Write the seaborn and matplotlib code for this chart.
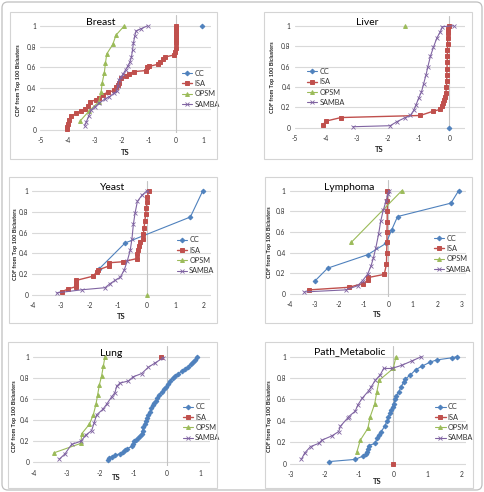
import matplotlib
matplotlib.use("Agg")
import matplotlib.pyplot as plt
import seaborn as sns
from matplotlib.patches import Rectangle, FancyBboxPatch
from matplotlib.lines import Line2D

# ---- data (TS value, CDF) ----
breast_cc = [(0.95, 1.0)]
breast_isa = [(-4.03, 0.01), (-4.0, 0.03), (-3.97, 0.06), (-3.93, 0.1), (-3.87, 0.13), (-3.68, 0.16),
              (-3.5, 0.18), (-3.34, 0.2), (-3.25, 0.23), (-3.17, 0.27), (-2.94, 0.29), (-2.82, 0.31),
              (-2.7, 0.34), (-2.52, 0.36), (-2.27, 0.38), (-2.21, 0.41), (-2.15, 0.43), (-2.11, 0.45),
              (-2.02, 0.5), (-1.84, 0.52), (-1.73, 0.54), (-1.55, 0.56), (-1.1, 0.57), (-1.05, 0.6),
              (-0.98, 0.61), (-0.67, 0.63), (-0.58, 0.65), (-0.47, 0.68), (-0.4, 0.7), (-0.06, 0.72),
              (-0.02, 0.75), (-0.01, 0.79), (-0.01, 0.83), (0.0, 0.86), (0.0, 0.89), (0.0, 0.92),
              (0.0, 0.95), (0.01, 0.98), (0.01, 1.0)]
breast_opsm = [(-3.52, 0.09), (-3.21, 0.18), (-2.85, 0.27), (-2.76, 0.36), (-2.72, 0.45), (-2.64, 0.55),
               (-2.6, 0.64), (-2.55, 0.73), (-2.33, 0.82), (-2.21, 0.91), (-1.9, 1.0)]
breast_samba = [(-3.37, 0.04), (-3.3, 0.08), (-3.22, 0.13), (-3.13, 0.19), (-3.0, 0.22), (-2.82, 0.26),
                (-2.6, 0.3), (-2.45, 0.32), (-2.3, 0.35), (-2.18, 0.37), (-2.14, 0.42), (-2.11, 0.48),
                (-2.02, 0.51), (-1.94, 0.54), (-1.85, 0.58), (-1.78, 0.61), (-1.7, 0.65), (-1.64, 0.7),
                (-1.6, 0.77), (-1.57, 0.83), (-1.52, 0.9), (-1.47, 0.95), (-1.3, 0.97), (-1.04, 1.0)]

liver_cc = [(0.0, 0.0)]
liver_isa = [(-4.08, 0.03), (-3.99, 0.065), (-3.5, 0.1), (-0.94, 0.12), (-0.54, 0.16), (-0.29, 0.18),
             (-0.24, 0.21), (-0.2, 0.24), (-0.17, 0.27), (-0.14, 0.3), (-0.11, 0.34), (-0.09, 0.4),
             (-0.08, 0.46), (-0.08, 0.52), (-0.07, 0.58), (-0.07, 0.64), (-0.06, 0.7), (-0.06, 0.76),
             (-0.05, 0.82), (-0.05, 0.88), (-0.04, 0.93), (-0.03, 0.97), (-0.02, 1.0)]
liver_opsm = [(-1.42, 1.0)]
liver_samba = [(-3.11, 0.01), (-1.91, 0.02), (-1.69, 0.06), (-1.42, 0.1), (-1.26, 0.12), (-1.15, 0.17),
               (-1.08, 0.22), (-0.99, 0.29), (-0.9, 0.35), (-0.83, 0.43), (-0.75, 0.52), (-0.69, 0.6),
               (-0.61, 0.7), (-0.51, 0.79), (-0.4, 0.88), (-0.29, 0.94), (-0.22, 0.99), (0.14, 1.0)]

yeast_cc = [(-1.67, 0.25), (-0.76, 0.5), (1.52, 0.75), (1.95, 1.0)]
yeast_isa = [(-2.97, 0.03), (-2.74, 0.06), (-2.47, 0.08), (-2.47, 0.11), (-2.47, 0.14), (-1.89, 0.18),
             (-1.75, 0.22), (-1.71, 0.24), (-1.31, 0.28), (-1.31, 0.31), (-0.82, 0.32), (-0.35, 0.35),
             (-0.33, 0.39), (-0.3, 0.43), (-0.28, 0.47), (-0.23, 0.51), (-0.14, 0.54), (-0.12, 0.59),
             (-0.1, 0.64), (-0.07, 0.71), (-0.04, 0.78), (-0.02, 0.84), (0.0, 0.89), (0.02, 0.94),
             (0.06, 1.0)]
yeast_opsm = [(0.0, 0.0)]
yeast_samba = [(-3.15, 0.02), (-2.27, 0.05), (-1.46, 0.07), (-1.28, 0.11), (-1.11, 0.14), (-0.93, 0.17),
               (-0.79, 0.24), (-0.68, 0.33), (-0.58, 0.43), (-0.52, 0.54), (-0.47, 0.68), (-0.41, 0.79),
               (-0.33, 0.9), (-0.17, 0.96), (0.0, 1.0)]

lymph_cc = [(-2.96, 0.13), (-2.46, 0.25), (-0.84, 0.38), (-0.09, 0.49), (0.14, 0.62), (0.38, 0.75),
            (2.55, 0.88), (2.86, 1.0)]
lymph_isa = [(-3.2, 0.04), (-1.6, 0.065), (-1.04, 0.1), (-0.8, 0.135), (-0.8, 0.16), (-0.16, 0.19),
             (-0.07, 0.29), (-0.06, 0.4), (-0.05, 0.5), (-0.05, 0.6), (-0.04, 0.7), (-0.04, 0.8),
             (-0.03, 0.9), (-0.03, 1.0)]
lymph_opsm = [(-1.5, 0.5), (0.55, 1.0)]
lymph_samba = [(-3.4, 0.02), (-1.72, 0.04), (-1.24, 0.08), (-1.04, 0.13), (-0.84, 0.19), (-0.7, 0.27),
               (-0.6, 0.35), (-0.5, 0.45), (-0.39, 0.58), (-0.3, 0.71), (-0.2, 0.81), (-0.09, 0.9),
               (0.0, 0.97), (0.04, 1.0)]

lung_cc = [(-1.75, 0.02), (-1.72, 0.04), (-1.65, 0.05), (-1.55, 0.07), (-1.4, 0.08), (-1.3, 0.1),
           (-1.25, 0.12), (-1.18, 0.13), (-1.05, 0.15), (-1.0, 0.17), (-0.98, 0.2), (-0.92, 0.21),
           (-0.85, 0.23), (-0.8, 0.25), (-0.75, 0.27), (-0.72, 0.3), (-0.7, 0.33), (-0.66, 0.36),
           (-0.62, 0.39), (-0.58, 0.42), (-0.55, 0.45), (-0.5, 0.48), (-0.46, 0.51), (-0.42, 0.54),
           (-0.38, 0.56), (-0.32, 0.58), (-0.28, 0.61), (-0.22, 0.64), (-0.15, 0.67), (-0.08, 0.69),
           (-0.02, 0.71), (0.05, 0.74), (0.1, 0.77), (0.18, 0.8), (0.25, 0.82), (0.35, 0.84),
           (0.45, 0.86), (0.55, 0.88), (0.65, 0.9), (0.72, 0.93), (0.78, 0.95), (0.85, 0.97), (0.9, 1.0)]
lung_isa = [(-0.18, 1.0)]
lung_opsm = [(-3.38, 0.09), (-2.57, 0.18), (-2.55, 0.27), (-2.32, 0.36), (-2.2, 0.45), (-2.12, 0.55),
             (-2.07, 0.64), (-2.02, 0.73), (-1.95, 0.82), (-1.9, 0.91), (-1.85, 1.0)]
lung_samba = [(-3.22, 0.03), (-3.05, 0.08), (-2.85, 0.17), (-2.57, 0.2), (-2.42, 0.26), (-2.25, 0.3),
              (-2.18, 0.37), (-2.1, 0.45), (-1.92, 0.5), (-1.8, 0.55), (-1.65, 0.62), (-1.55, 0.66),
              (-1.5, 0.72), (-1.4, 0.75), (-1.15, 0.77), (-1.0, 0.81), (-0.75, 0.84), (-0.55, 0.9),
              (-0.35, 0.94), (-0.1, 0.99)]

path_cc = [(-1.86, 0.02), (-1.11, 0.04), (-0.89, 0.07), (-0.8, 0.09), (-0.77, 0.11), (-0.74, 0.14),
           (-0.72, 0.17), (-0.52, 0.19), (-0.48, 0.24), (-0.42, 0.27), (-0.35, 0.3), (-0.25, 0.35),
           (-0.18, 0.4), (-0.14, 0.44), (-0.1, 0.47), (-0.07, 0.5), (-0.02, 0.53), (0.01, 0.56),
           (0.05, 0.6), (0.08, 0.63), (0.16, 0.67), (0.23, 0.72), (0.3, 0.76), (0.35, 0.79),
           (0.5, 0.83), (0.66, 0.88), (0.83, 0.91), (1.08, 0.95), (1.27, 0.97), (1.71, 0.99), (1.85, 1.0)]
path_isa = [(0.0, 0.0)]
path_opsm = [(-1.06, 0.11), (-0.96, 0.22), (-0.74, 0.33), (-0.67, 0.44), (-0.54, 0.56), (-0.48, 0.67),
             (-0.41, 0.78), (0.0, 0.89), (0.08, 1.0)]
path_samba = [(-2.68, 0.04), (-2.58, 0.1), (-2.41, 0.16), (-2.17, 0.19), (-2.08, 0.22), (-1.79, 0.26),
              (-1.59, 0.3), (-1.54, 0.35), (-1.32, 0.43), (-1.3, 0.44), (-1.11, 0.49), (-1.03, 0.55),
              (-0.91, 0.61), (-0.72, 0.68), (-0.64, 0.72), (-0.52, 0.78), (-0.38, 0.83), (-0.28, 0.89),
              (-0.04, 0.89), (0.25, 0.92), (0.54, 0.96), (0.82, 1.0)]

series_names = ["CC", "ISA", "OPSM", "SAMBA"]
panel_titles = ["Breast", "Liver", "Yeast", "Lymphoma", "Lung", "Path_Metabolic"]
panel_data = [
    [breast_cc, breast_isa, breast_opsm, breast_samba],
    [liver_cc, liver_isa, liver_opsm, liver_samba],
    [yeast_cc, yeast_isa, yeast_opsm, yeast_samba],
    [lymph_cc, lymph_isa, lymph_opsm, lymph_samba],
    [lung_cc, lung_isa, lung_opsm, lung_samba],
    [path_cc, path_isa, path_opsm, path_samba],
]
x_ranges = [(-5, 1.28), (-5, 0.5), (-4, 2.23), (-4, 3.16), (-4, 1.3), (-3, 2.12)]

# ---- styling / layout (pixels) ----
colors = ["#4F81BD", "#C0504D", "#9BBB59", "#8064A2"]
markers = ["D", "s", "^", "x"]
msizes = [2.4, 3.3, 2.8, 2.6]
mews = [0.7, 0.7, 0.7, 0.6]
lwidths = [0.8, 1.0, 0.8, 0.8]

W, H = 484, 492
# axes rect: left, top, right, bottom
axes_px = [(40.3, 15.3, 210.7, 133.1), (294.7, 15.5, 464.7, 130.8),
           (32.3, 180.6, 210.7, 298.1), (289.7, 180.4, 466.0, 297.1),
           (33.3, 346.1, 210.0, 465.5), (290.3, 346.0, 466.0, 466.9)]
boxes_px = [(10, 12, 217, 159), (264, 12, 472, 159), (9, 177, 217, 323),
            (265, 177, 472, 323), (8, 342, 217, 488), (265, 342, 473, 488)]
title_px = [(101, 22.3), (367.3, 22.7), (112.7, 187.3), (349.3, 187.3), (111, 353.3), (349.3, 351.3)]
ylab_px = [(19, 80), (272.5, 76.7), (16, 244), (269.5, 242.3), (15, 416.3), (269.5, 416)]
xlab_px = [(125, 152.7), (379.7, 150), (121.7, 316.7), (377, 314.7), (116.7, 477), (377, 481.3)]
leg_px = [(182, 88.7), (307, 86.9), (176.7, 255.3), (433.7, 253.7), (182.7, 422.3), (435.3, 422.2)]

sns.set_style("white")
plt.rcParams["font.family"] = ["Lato", "DejaVu Sans"]
plt.rcParams["axes.unicode_minus"] = False

fig = plt.figure(figsize=(W / 100, H / 100), dpi=100)

fig.patches.append(FancyBboxPatch((2 / W, 1 - 490 / H), 480 / W, 488 / H,
                                  boxstyle="round,pad=0,rounding_size=0.012",
                                  transform=fig.transFigure, fill=False, ec="#BFBFBF", lw=0.9))
for (l, t, r, b) in boxes_px:
    fig.patches.append(Rectangle((l / W, 1 - b / H), (r - l) / W, (b - t) / H,
                                 transform=fig.transFigure, fill=False, ec="#D4D4D4", lw=0.8))


def fx(x):
    return x / W


def fy(y):
    return 1 - y / H


for i in range(6):
    l, t, r, b = axes_px[i]
    ax = fig.add_axes([fx(l), fy(b), (r - l) / W, (b - t) / H])
    ax.patch.set_alpha(0)
    xmin, xmax = x_ranges[i]
    for k in range(4):
        pts = panel_data[i][k]
        xs = [p[0] for p in pts]
        ys = [p[1] for p in pts]
        sns.lineplot(x=xs, y=ys, ax=ax, color=colors[k], marker=markers[k], markersize=msizes[k],
                     markeredgecolor=colors[k], markeredgewidth=mews[k], linewidth=lwidths[k],
                     sort=False, estimator=None, legend=False, zorder=3 + k, clip_on=False)
    ax.set_xlim(xmin, xmax)
    ax.set_ylim(-0.03, 1.1)
    xt = list(range(xmin, int(xmax) + 1))
    ax.set_xticks(xt)
    ax.set_xticklabels([str(v) for v in xt])
    ax.set_yticks([0, 0.2, 0.4, 0.6, 0.8, 1.0])
    ax.set_yticklabels(["0", "0.2", "0.4", "0.6", "0.8", "1"])
    ax.tick_params(length=0, labelsize=4.8, colors="#333333", pad=3)
    for s in ax.spines.values():
        s.set_visible(False)
    ax.grid(axis="y", color="#D9D9D9", lw=0.8)
    ax.grid(axis="x", visible=False)
    ax.set_axisbelow(True)
    ax.axvline(0, color="#C4C4C4", lw=0.8, zorder=1)
    ax.set_xlabel("")
    ax.set_ylabel("")

    handles = [Line2D([], [], color=colors[k], marker=markers[k], markersize=msizes[k],
                      markeredgecolor=colors[k], markeredgewidth=mews[k], lw=lwidths[k])
               for k in range(4)]
    lx, ly = leg_px[i]
    leg = ax.legend(handles, series_names, loc="center left", bbox_to_anchor=(fx(lx), fy(ly)),
                    bbox_transform=fig.transFigure, frameon=False, fontsize=5.3,
                    handlelength=1.4, handletextpad=0.3, labelspacing=0.45,
                    borderpad=0, borderaxespad=0)
    for txt in leg.get_texts():
        txt.set_color("#333333")

    fig.text(fx(title_px[i][0]), fy(title_px[i][1]), panel_titles[i], ha="center", va="center",
             fontsize=7.5, color="black")
    fig.text(fx(ylab_px[i][0]), fy(ylab_px[i][1]), "CDF from Top 100 Biclusters", rotation=90,
             ha="center", va="center", fontsize=4.0, fontweight="bold", color="#222222")
    fig.text(fx(xlab_px[i][0]), fy(xlab_px[i][1]), "TS", ha="center", va="center",
             fontsize=5.5, fontweight="bold", color="#222222")

fig.savefig("out.png", dpi=100)
